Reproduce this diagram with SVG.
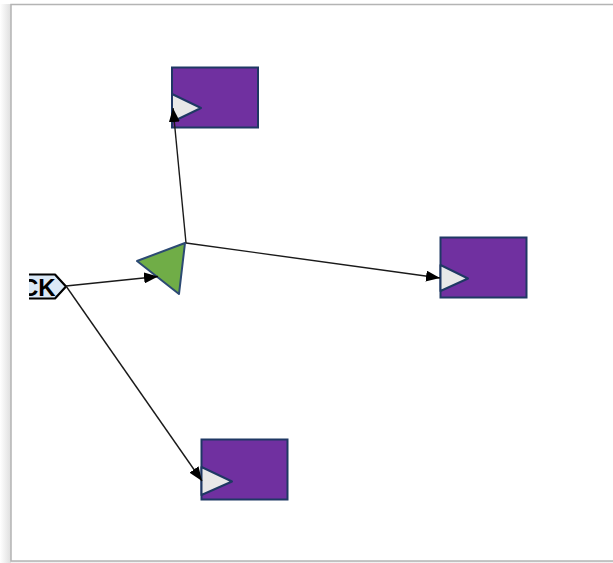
<svg xmlns="http://www.w3.org/2000/svg" width="613" height="563" viewBox="0 0 613 563">
  <defs>
    <linearGradient id="shadowL" x1="0" y1="0" x2="1" y2="0">
      <stop offset="0" stop-color="#ffffff"/>
      <stop offset="1" stop-color="#dedede"/>
    </linearGradient>
    <linearGradient id="shadowB" x1="0" y1="0" x2="0" y2="1">
      <stop offset="0" stop-color="#e4e4e4"/>
      <stop offset="1" stop-color="#f6f6f6"/>
    </linearGradient>
    <marker id="arrow" viewBox="0 0 14 11" refX="14" refY="5.5" markerWidth="14" markerHeight="11" markerUnits="userSpaceOnUse" orient="auto">
      <path d="M0,0 L14,5.5 L0,11 Z" fill="#000"/>
    </marker>
    <clipPath id="pageClip">
      <rect x="29" y="0" width="600" height="563"/>
    </clipPath>
  </defs>
  <style>
    .box { fill: #7030a0; stroke: #1f3864; stroke-width: 2; }
    .clk { fill: #e8e8e8; stroke: #1f3864; stroke-width: 2; stroke-linejoin: round; }
    .conn { fill: none; stroke: #1a1a1a; stroke-width: 1.4; marker-end: url(#arrow); }
    .lbl { font-family: "Liberation Sans", Arial, sans-serif; font-weight: bold; font-size: 24px; fill: #000; }
  </style>

  <rect x="0" y="0" width="613" height="563" fill="#ffffff"/>
  <rect x="0" y="4" width="11" height="559" fill="url(#shadowL)"/>
  <rect x="11" y="561" width="602" height="2" fill="url(#shadowB)"/>
  <rect x="11" y="4.5" width="620" height="556.5" fill="#ffffff" stroke="#b4b4b4" stroke-width="1.5"/>

  <g id="clk" clip-path="url(#pageClip)">
    <path d="M20,274.5 L55,274.5 L66,286.5 L55,298.5 L20,298.5 Z" fill="#dbe9f7" stroke="#000" stroke-width="2.2" stroke-linejoin="round"/>
    <text class="lbl" x="21" y="295.5">CK</text>
  </g>

  <g id="buffer">
    <polygon points="137,261 185,243 179,294" fill="#70ad47" stroke="#2c4a73" stroke-width="2" stroke-linejoin="round"/>
  </g>

  <g id="ff-top">
    <rect class="box" x="172" y="67.5" width="86" height="60"/>
    <polygon class="clk" points="172,94 201,108 172,122"/>
  </g>

  <g id="ff-right">
    <rect class="box" x="440.5" y="237.5" width="86" height="60"/>
    <polygon class="clk" points="440.5,265 468,278.5 440.5,291"/>
  </g>

  <g id="ff-bottom">
    <rect class="box" x="201.5" y="439.5" width="86" height="60"/>
    <polygon class="clk" points="201.5,467 232,481.5 201.5,495"/>
  </g>

  <g id="connectors">
    <line class="conn" x1="66" y1="286" x2="158" y2="276.5"/>
    <line class="conn" x1="66" y1="286" x2="202" y2="481"/>
    <line class="conn" x1="186" y1="243" x2="173" y2="108"/>
    <line class="conn" x1="186" y1="243" x2="440" y2="278"/>
  </g>
</svg>
